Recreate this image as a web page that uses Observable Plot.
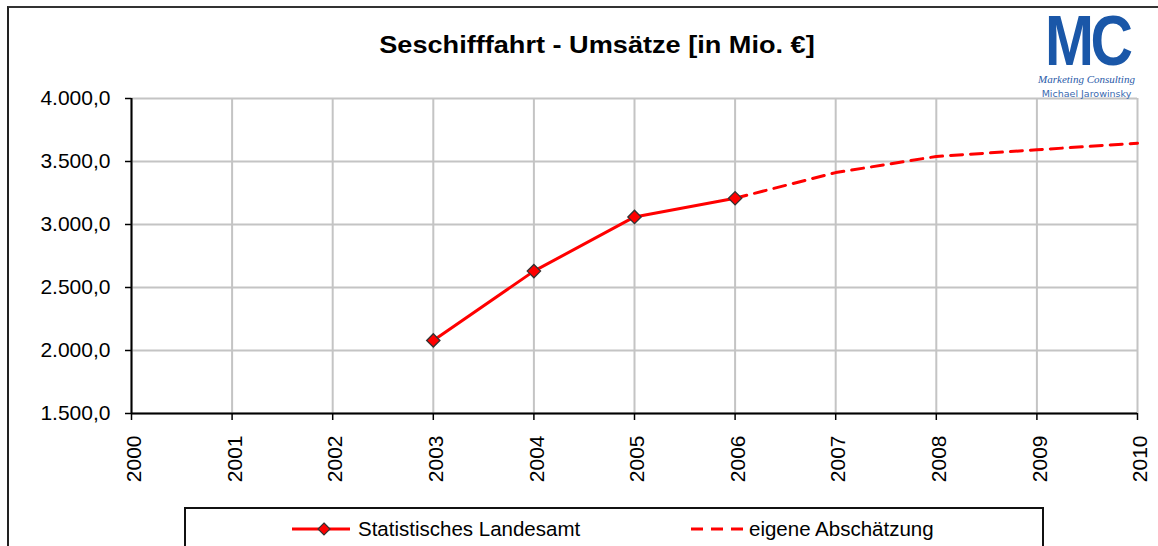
<!DOCTYPE html>
<html>
<head>
<meta charset="utf-8">
<script src="https://cdn.jsdelivr.net/npm/d3@7"></script>
<script src="https://cdn.jsdelivr.net/npm/@observablehq/plot@0.6"></script>
<style>
  html, body { margin: 0; padding: 0; background: #fff; }
  #wrap { position: relative; width: 1158px; height: 546px; overflow: hidden; font-family: "Liberation Sans", Arial, sans-serif; }
  #frame { position: absolute; left: 7px; top: 6px; width: 1200px; height: 600px; border-left: 2px solid #222; border-top: 2px solid #333; }
  #chart { position: absolute; left: 0; top: 0; }
  #title { position: absolute; left: 0; width: 1194px; top: 31px; line-height: 28px; text-align: center; font-weight: bold; font-size: 24px; color: #000; transform: scaleX(1.13); transform-origin: 597px 0; }
  #logo { position: absolute; left: 1037px; top: 10px; width: 99px; height: 87px; background: #fff; color: #1a57a8; }
  #logo .mc { position: absolute; left: 0; top: 0px; width: 99px; height: 62px; line-height: 62px; text-align: center; font-family: "Liberation Sans", Arial, sans-serif; font-weight: bold; font-size: 70px; letter-spacing: -4px; transform: scaleX(0.84); transform-origin: center; }
  #logo .mk { position: absolute; left: 0; top: 63px; width: 99px; line-height: 12px; text-align: center; font-family: "Liberation Serif", serif; font-style: italic; font-size: 11px; color: #2a5aa8; }
  #logo .mj { position: absolute; left: 0; top: 78px; width: 99px; line-height: 11px; text-align: center; font-family: "DejaVu Sans", sans-serif; font-size: 9.5px; color: #3a6ab0; }
  #legend { position: absolute; left: 184px; top: 507px; width: 856px; height: 60px; border: 2px solid #111; background: #fff; }
  .item { position: absolute; top: 8px; font-size: 20.5px; color: #000; display: flex; align-items: center; }
</style>
</head>
<body>
<div id="wrap">
  <div id="frame"></div>
  <div id="chart"></div>
  <div id="title">Seschifffahrt - Umsätze [in Mio. €]</div>
  <div id="logo">
    <div class="mc">MC</div>
    <div class="mk">Marketing Consulting</div>
    <div class="mj">Michael Jarowinsky</div>
  </div>
  <div id="legend">
    <div class="item" style="left:104px">
      <svg width="64" height="20" style="margin-right:4px"><line x1="2" y1="10" x2="60" y2="10" stroke="#ff0000" stroke-width="3"/><path d="M34,4 L40,10 L34,16 L28,10 Z" fill="#ff0000" stroke="#333" stroke-width="1.2"/></svg>
      <span>Statistisches Landesamt</span>
    </div>
    <div class="item" style="left:504px">
      <svg width="58" height="20" style="margin-right:1px"><line x1="1" y1="10" x2="57" y2="10" stroke="#ff0000" stroke-width="3" stroke-dasharray="12,8"/></svg>
      <span>eigene Abschätzung</span>
    </div>
  </div>
</div>
<script>
// Data
const statYears = [2003, 2004, 2005, 2006];
const statValues = [2080, 2630, 3060, 3208];
const estYears = [2006, 2007, 2008, 2009, 2010];
const estValues = [3208, 3412, 3540, 3593, 3645];
const xTicks = [2000, 2001, 2002, 2003, 2004, 2005, 2006, 2007, 2008, 2009, 2010];
const yTicks = [1500, 2000, 2500, 3000, 3500, 4000];

const stat = statYears.map((y, i) => ({year: y, value: statValues[i]}));
const est = estYears.map((y, i) => ({year: y, value: estValues[i]}));

const de = d3.formatLocale({decimal: ",", thousands: ".", grouping: [3], currency: ["", " €"]});
const fmt = de.format(",.1f");

const chart = Plot.plot({
  width: 1158,
  height: 500,
  marginLeft: 131,
  marginRight: 21,
  marginTop: 98,
  marginBottom: 87,
  style: {fontFamily: "'Liberation Sans', Arial, sans-serif", fontSize: "21px", color: "#000", background: "transparent", overflow: "visible"},
  x: {domain: [2000, 2010], ticks: xTicks, tickFormat: d => String(d), label: null},
  y: {domain: [1500, 4000], ticks: yTicks, tickFormat: fmt, label: null},
  marks: [
    Plot.gridX(xTicks, {stroke: "#c4c4c4", strokeOpacity: 1, strokeWidth: 2}),
    Plot.gridY(yTicks, {stroke: "#c4c4c4", strokeOpacity: 1, strokeWidth: 2}),
    Plot.axisX(xTicks, {tickSize: 7, tickFormat: () => "", stroke: "#000", strokeWidth: 1.5, label: null}),
    Plot.axisX(xTicks, {tickSize: 0, tickPadding: 22, tickRotate: -90, tickFormat: d => String(d), label: null, fontSize: 21, dx: 3}),
    Plot.axisY(yTicks, {tickSize: 6, tickPadding: 15, tickFormat: fmt, stroke: "#000", strokeWidth: 1.5, label: null, fontSize: 21}),
    Plot.ruleX([2000], {stroke: "#000", strokeWidth: 2}),
    Plot.ruleY([1500], {stroke: "#000", strokeWidth: 2}),
    Plot.line(est, {x: "year", y: "value", stroke: "#ff0000", strokeWidth: 3, strokeDasharray: "12,8"}),
    Plot.line(stat, {x: "year", y: "value", stroke: "#ff0000", strokeWidth: 3}),
    Plot.dot(stat, {x: "year", y: "value", symbol: "diamond2", r: 6, fill: "#ff0000", stroke: "#333", strokeWidth: 1.3})
  ]
});
document.getElementById("chart").appendChild(chart);
</script>
</body>
</html>
